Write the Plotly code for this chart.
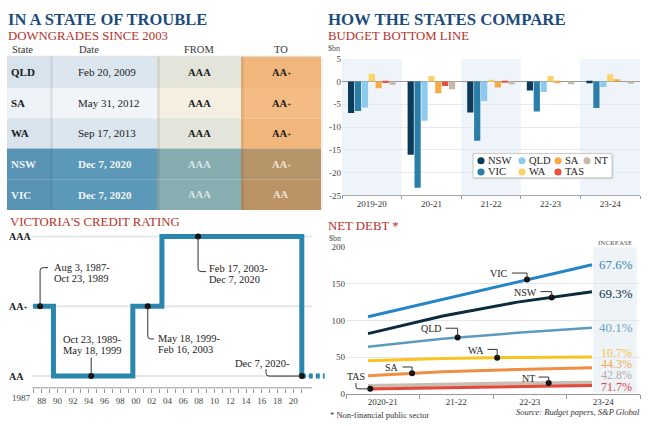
import plotly.graph_objects as go
import numpy as np

W, H = 650, 426
SERIF = "Liberation Serif"

# ======================= DATA =======================
# Downgrades table
table_headers = ["State", "Date", "FROM", "TO"]
table_states = ["QLD", "SA", "WA", "NSW", "VIC"]
table_dates = ["Feb 20, 2009", "May 31, 2012", "Sep 17, 2013", "Dec 7, 2020", "Dec 7, 2020"]
table_from = ["AAA", "AAA", "AAA", "AAA", "AAA"]
table_to = ["AA+", "AA+", "AA+", "AA+", "AA"]

# Budget bottom line ($bn)
budget_years = ["2019-20", "20-21", "21-22", "22-23", "23-24"]
budget_nsw = [-6.9, -16.1, -6.8, -2.0, -0.4]
budget_vic = [-6.5, -23.3, -13.0, -6.6, -5.8]
budget_qld = [-5.7, -8.6, -4.3, -2.3, -1.2]
budget_wa = [1.7, 1.2, 0.3, 1.2, 1.6]
budget_sa = [-1.5, -2.6, -1.3, -0.4, 0.5]
budget_tas = [-0.35, -1.0, -0.2, 0.0, 0.0]
budget_nt = [-0.7, -1.7, -0.6, -0.6, -0.5]
budget_tickvals = [5, 0, -5, -10, -15, -20, -25]
budget_ticktext = ["5", "0", "-5", "-10", "-15", "-20", "-25"]

# Victoria's credit rating
rating_levels = ["AA", "AA+", "AAA"]
rating_change_years = [1986.9, 1989.5, 1999.6, 2003.3, 2021.1]
rating_values = ["AA+", "AA", "AA+", "AAA", "AA"]
rating_outlook_end = 2024.0
rating_marker_years = [1987.8, 1994.3, 2001.5, 2007.9, 2021.1]
rating_marker_values = ["AA+", "AA", "AA+", "AAA", "AA"]
rating_marker_labels = [["Aug 3, 1987-", "Oct 23, 1989"],
                        ["Oct 23, 1989-", "May 18, 1999"],
                        ["May 18, 1999-", "Feb 16, 2003"],
                        ["Feb 17, 2003-", "Dec 7, 2020"],
                        ["Dec 7, 2020-"]]
rating_tickvals = [1988, 1990, 1992, 1994, 1996, 1998, 2000, 2002, 2004,
                   2006, 2008, 2010, 2012, 2014, 2016, 2018, 2020]
rating_ticktext = ["88", "90", "92", "94", "96", "98", "00", "02", "04",
                   "06", "08", "10", "12", "14", "16", "18", "20"]

# Net debt ($bn)
debt_years = ["2020-21", "21-22", "22-23", "23-24"]
debt_vic = [105, 129, 153, 176]
debt_nsw = [82, 106, 125, 139]
debt_qld = [64, 75, 83, 90]
debt_wa = [45, 48, 49.5, 50]
debt_sa = [24.5, 30, 33, 35.5]
debt_nt = [10.5, 12.5, 14, 15]
debt_tas = [6.5, 8, 9.5, 11]
debt_increase = {"VIC": "67.6%", "NSW": "69.3%", "QLD": "40.1%", "WA": "10.7%",
                 "SA": "44.3%", "NT": "42.8%", "TAS": "71.7%"}
debt_tickvals = [0, 50, 100, 150, 200]

# ======================= HELPERS =======================
def X(px):
    return px / W


def Y(py):
    return 1 - py / H


def P(px, py):
    return f"{X(px):.5f},{Y(py):.5f}"


annotations = []
shapes = []


def text(x, y, s, size, color="#222", xanchor="left", yanchor="middle", bold=False, italic=False):
    if bold:
        s = f"<b>{s}</b>"
    if italic:
        s = f"<i>{s}</i>"
    annotations.append(dict(x=X(x), y=Y(y), xref="paper", yref="paper", text=s,
                            showarrow=False, xanchor=xanchor, yanchor=yanchor,
                            font=dict(family=SERIF, size=size, color=color)))


def rect(x0, y0, x1, y1, fill, layer="above", line=None):
    shapes.append(dict(type="rect", xref="paper", yref="paper", x0=X(x0), x1=X(x1),
                       y0=Y(y1), y1=Y(y0), fillcolor=fill, layer=layer,
                       line=line or dict(width=0)))


def leader(path, color="#333", width=1):
    shapes.append(dict(type="path", xref="paper", yref="paper", path=path,
                       line=dict(color=color, width=width), layer="above"))


def plus_small(s):
    return s.replace("+", "<span style='font-size:7px'>+</span>")


fig = go.Figure()

# ======================= TITLES =======================
NAVY = "#1c4b7d"
RED = "#b5322a"
text(6, 15, "IN A STATE OF TROUBLE", 16.5, NAVY, bold=True)
text(6, 32, "DOWNGRADES SINCE 2003", 12.8, RED)
text(326, 15, "HOW THE STATES COMPARE", 16.8, NAVY, bold=True)
text(326, 32, "BUDGET BOTTOM LINE", 12.8, RED)
text(326, 45, "$bn", 8, "#555")
text(8, 222, "VICTORIA'S CREDIT RATING", 12.8, RED)
text(326, 226, "NET DEBT *", 12.8, RED)
text(327, 239, "$bn", 8, "#555")

# ======================= TABLE =======================
col_edges = [7, 50, 157, 241, 321]
row_edges = [53, 85, 116, 147, 179, 210]
row_fills = [
    ["#d8e3ed", "#dce6ef", "#e3e5da", "#f1b67b"],
    ["#edf2f7", "#f1f5f9", "#f5efe2", "#f4bc84"],
    ["#d8e3ed", "#dce6ef", "#e3e5da", "#f1b67b"],
    ["#5893b3", "#5c98b8", "#87acb0", "#b7956b"],
    ["#5893b3", "#5c98b8", "#89aeb2", "#bb9367"],
]
row_text_colors = [
    ["#1a1a1a", "#222", "#1a1a1a", "#1a1a1a"],
    ["#1a1a1a", "#222", "#1a1a1a", "#1a1a1a"],
    ["#1a1a1a", "#222", "#1a1a1a", "#1a1a1a"],
    ["#eef4f8", "#f2f6f9", "#d8e5e7", "#efe2d0"],
    ["#eef4f8", "#f2f6f9", "#d8e5e7", "#efe2d0"],
]
for r in range(len(table_states)):
    for c in range(4):
        rect(col_edges[c], row_edges[r], col_edges[c + 1], row_edges[r + 1], row_fills[r][c])
# subtle column shadows
for c in (1, 2, 3):
    rect(col_edges[c], row_edges[0], col_edges[c] + 3, row_edges[-1], "rgba(0,0,0,0.07)")
rect(col_edges[0], row_edges[0] - 1, col_edges[-1], row_edges[0], "rgba(0,0,0,0.12)")
rect(col_edges[-1], row_edges[0], col_edges[-1] + 2, row_edges[-1], "rgba(0,0,0,0.06)")

hdr_x = [10, 77, 199, 281]
hdr_anchor = ["left", "left", "center", "center"]
for h, hx, ha in zip(table_headers, hdr_x, hdr_anchor):
    text(hx, 46, h, 10.5, "#333", xanchor=ha)

for r in range(len(table_states)):
    yc = (row_edges[r] + row_edges[r + 1]) / 2
    dark = r >= 3
    text(9, yc, table_states[r], 11, row_text_colors[r][0], bold=True)
    text(76, yc, table_dates[r], 11, row_text_colors[r][1], bold=dark)
    text(199, yc, table_from[r], 10.5, row_text_colors[r][2], xanchor="center", bold=True)
    text(281, yc, plus_small(table_to[r]), 10.5, row_text_colors[r][3], xanchor="center", bold=True)

# ======================= BAR CHART =======================
bar_colors = {"NSW": "#0c3a5a", "VIC": "#2a7ea8", "QLD": "#8dcaee", "WA": "#fcd168",
              "SA": "#f6aa45", "TAS": "#e8503f", "NT": "#c6b9ab"}
bar_series = [("NSW", budget_nsw), ("VIC", budget_vic), ("QLD", budget_qld),
              ("WA", budget_wa), ("SA", budget_sa), ("TAS", budget_tas), ("NT", budget_nt)]
for name, vals in bar_series:
    fig.add_trace(go.Bar(x=budget_years, y=vals, name=name, xaxis="x", yaxis="y",
                         marker=dict(color=bar_colors[name], line=dict(width=0)),
                         showlegend=False, hoverinfo="x+y+name"))

for i in range(len(budget_years)):
    if i % 2 == 0:
        shapes.append(dict(type="rect", xref="x", yref="y", x0=i - 0.5, x1=i + 0.5,
                           y0=budget_tickvals[-1], y1=budget_tickvals[0],
                           fillcolor="#eef4f9", line=dict(width=0), layer="below"))

# manual legend
rect(474, 153, 613.5, 178.5, "#d8d8d8")
rect(473, 152, 612, 177, "white", line=dict(color="#c8c8c8", width=1))
legend_rows = [["NSW", "QLD", "SA", "NT"], ["VIC", "WA", "TAS"]]
legend_col_x = [481, 522, 558, 587]
legend_row_y = [159.5, 171]
for ri, row in enumerate(legend_rows):
    for ci, name in enumerate(row):
        cxp, cyp = legend_col_x[ci], legend_row_y[ri]
        shapes.append(dict(type="circle", xref="paper", yref="paper",
                           x0=X(cxp - 3.6), x1=X(cxp + 3.6), y0=Y(cyp + 3.6), y1=Y(cyp - 3.6),
                           fillcolor=bar_colors[name], line=dict(width=0), layer="above"))
        text(cxp + 5, cyp, name, 10.5, "#222")

# ======================= CREDIT RATING =======================
RATING_BLUE = "#2b86ae"
c_dom = (32, 325)
c_range = (1986.77, 2024.05)
c_ydom = (392, 230)
c_yrange = (-0.168, 2.098)


def cpx(v):
    return c_dom[0] + (v - c_range[0]) * (c_dom[1] - c_dom[0]) / (c_range[1] - c_range[0])


def cpy(v):
    return c_ydom[0] - (v - c_yrange[0]) * (c_ydom[0] - c_ydom[1]) / (c_yrange[1] - c_yrange[0])


lvl = {r: i for i, r in enumerate(rating_levels)}

for i, r in enumerate(rating_levels):
    shapes.append(dict(type="line", xref="x3", yref="y3", x0=c_range[0], x1=2022.4,
                       y0=i, y1=i, line=dict(color="#e6e6e6", width=2), layer="below"))
shapes.append(dict(type="line", xref="x3", yref="y3 domain", x0=c_range[0], x1=2022.4,
                   y0=0, y1=0, line=dict(color="#999", width=1), layer="above"))

fig.add_trace(go.Scatter(x=rating_change_years, y=[lvl[v] for v in rating_values],
                         mode="lines", line=dict(color=RATING_BLUE, width=5, shape="hv"),
                         xaxis="x3", yaxis="y3", showlegend=False, hoverinfo="skip"))
fig.add_trace(go.Scatter(x=[rating_change_years[-1], rating_outlook_end],
                         y=[lvl[rating_values[-1]]] * 2, mode="lines",
                         line=dict(color=RATING_BLUE, width=5, dash="4px,3px"),
                         xaxis="x3", yaxis="y3", showlegend=False, hoverinfo="skip"))
fig.add_trace(go.Scatter(x=rating_marker_years, y=[lvl[v] for v in rating_marker_values],
                         mode="markers", marker=dict(color="#111", size=6),
                         xaxis="x3", yaxis="y3", showlegend=False, hoverinfo="skip"))

# y labels
for r in rating_levels:
    text(7, cpy(lvl[r]), plus_small(r), 10, "#222", bold=True)
text(33, 402.5, "1987", 9, "#444", xanchor="right")

# marker labels + leaders
dots = [(cpx(x), cpy(lvl[v])) for x, v in zip(rating_marker_years, rating_marker_values)]
LP = 11  # line pitch
# 0
d = dots[0]
leader(f"M {P(d[0], d[1])} L {P(d[0], 272)} Q {P(d[0], 269)} {P(d[0] + 3, 269)} L {P(48, 269)}")
for k, s in enumerate(rating_marker_labels[0]):
    text(52, 269 + k * LP, s, 10.5)
# 1
d = dots[1]
leader(f"M {P(d[0], d[1])} L {P(d[0], 361)}")
for k, s in enumerate(rating_marker_labels[1]):
    text(92, 343 + k * LP, s, 10.5, xanchor="center")
# 2
d = dots[2]
leader(f"M {P(d[0], d[1])} L {P(d[0], 339)} Q {P(d[0], 342)} {P(d[0] + 3, 342)} L {P(154, 342)}")
for k, s in enumerate(rating_marker_labels[2]):
    text(156, 342 + k * LP, s, 10.5)
# 3
d = dots[3]
leader(f"M {P(d[0], d[1])} L {P(d[0], 270)} Q {P(d[0], 273)} {P(d[0] + 3, 273)} L {P(206, 273)}")
for k, s in enumerate(rating_marker_labels[3]):
    text(207, 270 + k * LP, s, 10.5)
# 4
d = dots[4]
leader(f"M {P(d[0], d[1])} L {P(269, d[1])} Q {P(266, d[1])} {P(266, d[1] - 3)} L {P(266, 373)}")
text(292, 367, rating_marker_labels[4][0], 10.5, xanchor="right")

# ======================= NET DEBT =======================
debt_x = list(range(len(debt_years)))
d_dom = (346, 640)
d_range = (-0.295, 3.643)
d_ydom = (398, 248)
d_yrange = (0, 200)


def dpx(v):
    return d_dom[0] + (v - d_range[0]) * (d_dom[1] - d_dom[0]) / (d_range[1] - d_range[0])


def dpy(v):
    return d_ydom[0] - (v - d_yrange[0]) * (d_ydom[0] - d_ydom[1]) / (d_yrange[1] - d_yrange[0])


# increase band
rect(593, 248, 637, 397, "#edf3f7", layer="below")

debt_series = [("VIC", debt_vic, "#2384c6", 3), ("NSW", debt_nsw, "#0b2b3f", 3),
               ("QLD", debt_qld, "#5c9bbd", 2.5), ("WA", debt_wa, "#f9c422", 3),
               ("SA", debt_sa, "#ef8e45", 3), ("NT", debt_nt, "#c9bdb1", 4),
               ("TAS", debt_tas, "#e4473c", 3)]
for name, vals, col, lw in debt_series:
    fig.add_trace(go.Scatter(x=debt_x, y=vals, mode="lines", name=name,
                             line=dict(color=col, width=lw), xaxis="x4", yaxis="y4",
                             showlegend=False))

# label style: dot x (data units), label right px, label y px, leader y px
debt_label_style = {
    "VIC": (2.13, 510, 275, 274.5),
    "NSW": (2.46, 538.5, 294.3, 293.5),
    "QLD": (1.2, 443.5, 331.7, 331),
    "WA": (1.73, 485.5, 354, 352.7),
    "SA": (0.59, 400.5, 371.7, 370.7),
    "NT": (2.42, 536.5, 382.3, 381),
    "TAS": (0.03, None, 380.7, None),
}
series_vals = {n: v for n, v, _, _ in debt_series}
dot_x, dot_y = [], []
for name, (dxv, lr, ly, leady) in debt_label_style.items():
    yv = float(np.interp(dxv, debt_x, series_vals[name]))
    dot_x.append(dxv)
    dot_y.append(yv)
    px, py = dpx(dxv), dpy(yv)
    if lr is not None:
        text(lr, ly, name, 10, "#222", xanchor="right")
        leader(f"M {P(lr + 2, leady)} L {P(px, leady)} L {P(px, py)}")
    else:
        text(345, ly, name, 10, "#222")
        leader(f"M {P(356, 387)} L {P(356, py - 2)} Q {P(356, py)} {P(358, py)} L {P(px, py)}")
fig.add_trace(go.Scatter(x=dot_x, y=dot_y, mode="markers", marker=dict(color="#111", size=6),
                         xaxis="x4", yaxis="y4", showlegend=False, hoverinfo="skip"))

text(615, 244, "INCREASE", 7, "#555", xanchor="center")
inc_colors = {"VIC": "#3b87b3", "NSW": "#10304a", "QLD": "#6fa4c4", "WA": "#f7c54a",
              "SA": "#f2a950", "NT": "#b9ada3", "TAS": "#e0443a"}
inc_y = {"VIC": 266, "NSW": 295, "QLD": 330.5, "WA": 356.5, "SA": 367.5, "NT": 379, "TAS": 391}
inc_size = {"VIC": 13, "NSW": 13, "QLD": 13, "WA": 12, "SA": 12, "NT": 12, "TAS": 12}
for name in ["VIC", "NSW", "QLD", "WA", "SA", "NT", "TAS"]:
    text(616, inc_y[name], debt_increase[name], inc_size[name], inc_colors[name], xanchor="center")

text(328, 420, "* Non-financial public sector", 8.5, "#333")
text(642, 417, "Source: Budget papers, S&P Global", 8.5, "#333", xanchor="right", italic=True)

d_bounds = list(np.linspace(d_range[0], d_range[1], len(debt_years) + 1))
d_centers = [(a + b) / 2 for a, b in zip(d_bounds[:-1], d_bounds[1:])]

# ======================= LAYOUT =======================
tick_font = dict(family=SERIF, size=9, color="#444")
fig.update_layout(
    width=W, height=H, margin=dict(l=0, r=0, t=0, b=0),
    paper_bgcolor="white", plot_bgcolor="rgba(0,0,0,0)",
    barmode="group", bargap=0.19, bargroupgap=0.1,
    showlegend=False,
    font=dict(family=SERIF, color="#222"),
    xaxis=dict(domain=[X(342), X(640)], anchor="y", type="category",
               tickson="boundaries", ticks="outside", ticklen=3, tickcolor="#999",
               showline=True, linecolor="#aaa", linewidth=1, showgrid=False,
               tickfont=dict(family=SERIF, size=9, color="#333"), fixedrange=True),
    yaxis=dict(domain=[Y(195), Y(55)], anchor="x", range=[-25, 5],
               tickmode="array", tickvals=budget_tickvals, ticktext=budget_ticktext,
               showgrid=True, gridcolor="#e4eaef", gridwidth=1,
               zeroline=True, zerolinecolor="#9a9a9a", zerolinewidth=1,
               ticks="", tickfont=tick_font, fixedrange=True),
    xaxis3=dict(domain=[X(c_dom[0]), X(c_dom[1])], anchor="y3", range=list(c_range),
                tickmode="array", tickvals=rating_tickvals, ticktext=rating_ticktext,
                ticks="outside", ticklen=4, tickcolor="#999", tickwidth=1,
                minor=dict(tickmode="array", tickvals=list(range(1987, 2022)),
                           ticks="outside", ticklen=4, tickcolor="#999", showgrid=False),
                showline=False, showgrid=False, zeroline=False,
                tickfont=tick_font, fixedrange=True),
    yaxis3=dict(domain=[Y(c_ydom[0]), Y(c_ydom[1])], anchor="x3", range=list(c_yrange),
                showticklabels=False, showgrid=False, zeroline=False, ticks="",
                fixedrange=True),
    xaxis4=dict(domain=[X(d_dom[0]), X(d_dom[1])], anchor="y4", range=list(d_range),
                tickmode="array", tickvals=d_centers, ticktext=debt_years, ticks="",
                minor=dict(tickmode="array", tickvals=d_bounds, ticks="outside",
                           ticklen=4, tickcolor="#999", showgrid=False),
                showline=True, linecolor="#999", linewidth=1,
                showgrid=False, zeroline=False,
                tickfont=dict(family=SERIF, size=9, color="#333"), fixedrange=True),
    yaxis4=dict(domain=[Y(d_ydom[0]), Y(d_ydom[1])], anchor="x4", range=list(d_yrange),
                tickmode="array", tickvals=debt_tickvals,
                showgrid=True, gridcolor="#e6e6e6", zeroline=False, ticks="",
                tickfont=tick_font, fixedrange=True),
    annotations=annotations,
    shapes=shapes,
)

fig.write_html("out.html", config={"displayModeBar": False},
               post_script="document.body.style.margin='0';")
